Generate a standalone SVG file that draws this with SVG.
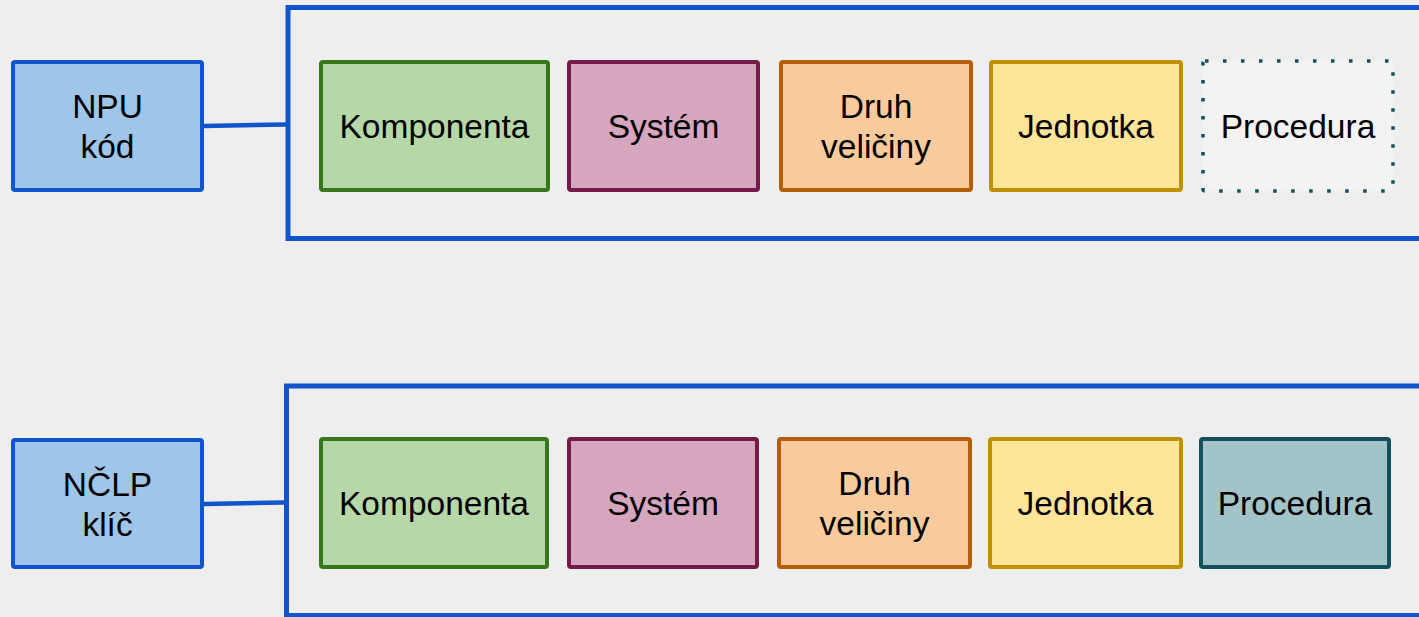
<svg xmlns="http://www.w3.org/2000/svg" width="1419" height="617" viewBox="0 0 1419 617">
<style>
text{font-family:"Liberation Sans",Arial,sans-serif;font-size:33.5px;fill:#000;text-anchor:middle}
.n rect{stroke-width:4}
.key{fill:#9fc5e8;stroke:#1155cc}
.cont{fill:none;stroke:#1155cc;stroke-width:5}
.komp{fill:#b6d7a8;stroke:#38761d}
.sys{fill:#d5a6bd;stroke:#741b47}
.druh{fill:#f9cb9c;stroke:#b45f06}
.jed{fill:#ffe599;stroke:#bf9000}
.proc{fill:#a2c4c9;stroke:#134f5c}
.procd{fill:#f3f3f3;stroke:#134f5c;stroke-dasharray:3.5 14.5}
.c{fill:none;stroke:#1155cc;stroke-width:4.5}
</style>
<rect width="1419" height="617" fill="#eeeeee"/>
<g id="containers">
<path class="cont" d="M1425 7.5H288V238.5H1425"/>
<path class="cont" d="M1425 386H286.5V615.5H1425"/>
</g>
<g id="connectors">
<line class="c" x1="204" y1="126" x2="286" y2="124.5"/>
<line class="c" x1="204" y1="504" x2="284" y2="502.5"/>
</g>
<g class="n">
<g id="npu"><rect class="key" x="13" y="62" width="189" height="128" rx="2"/><text x="107.5" y="118">NPU</text><text x="107.5" y="158">kód</text></g>
<g id="komp1"><rect class="komp" x="321" y="62" width="227" height="128" rx="2"/><text x="434.5" y="138">Komponenta</text></g>
<g id="sys1"><rect class="sys" x="569" y="62" width="189" height="128" rx="2"/><text x="663.5" y="138">Systém</text></g>
<g id="druh1"><rect class="druh" x="781" y="62" width="190" height="128" rx="2"/><text x="876" y="118">Druh</text><text x="876" y="158">veličiny</text></g>
<g id="jed1"><rect class="jed" x="991" y="62" width="190" height="128" rx="2"/><text x="1086" y="138">Jednotka</text></g>
<g id="proc1"><rect class="procd" x="1203" y="61" width="190" height="130" rx="2" style="stroke-width:3.5"/><text x="1298" y="138">Procedura</text></g>
<g id="nclp"><rect class="key" x="13" y="440" width="189" height="127" rx="2"/><text x="107.5" y="496">NČLP</text><text x="107.5" y="536">klíč</text></g>
<g id="komp2"><rect class="komp" x="321" y="439" width="226" height="128" rx="2"/><text x="434" y="515">Komponenta</text></g>
<g id="sys2"><rect class="sys" x="569" y="439" width="188" height="128" rx="2"/><text x="663" y="515">Systém</text></g>
<g id="druh2"><rect class="druh" x="779" y="439" width="191" height="128" rx="2"/><text x="874.5" y="495">Druh</text><text x="874.5" y="535">veličiny</text></g>
<g id="jed2"><rect class="jed" x="990" y="439" width="191" height="128" rx="2"/><text x="1085.5" y="515">Jednotka</text></g>
<g id="proc2"><rect class="proc" x="1201" y="439" width="188" height="128" rx="2"/><text x="1295" y="515">Procedura</text></g>
</g>
</svg>
